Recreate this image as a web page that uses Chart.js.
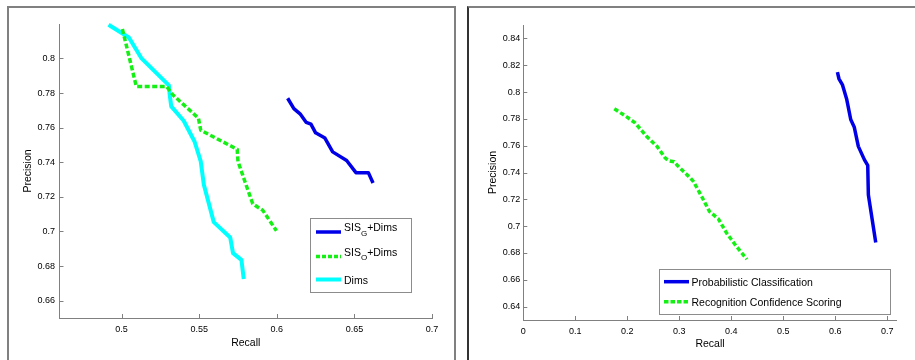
<!DOCTYPE html>
<html>
<head>
<meta charset="utf-8">
<script src="https://cdn.jsdelivr.net/npm/chart.js@4.4.1/dist/chart.umd.min.js"></script>
<style>
	html, body { margin: 0; padding: 0; background: #fff; }
	#page { position: relative; width: 915px; height: 360px; overflow: hidden; background: #fff; }
	#frameL { position: absolute; left: 7px; top: 6px; width: 445px; height: 400px; border: 2px solid #808080; border-bottom: none; }
	#frameR { position: absolute; left: 467px; top: 6px; width: 500px; height: 400px; border-top: 2px solid #808080; border-left: 2px solid #333; }
	.wrap { position: absolute; top: 0; height: 360px; }
	#wrapL { left: 0; width: 460px; }
	#wrapR { left: 460px; width: 455px; }
</style>
</head>
<body>
<div id="page">
	<div id="frameL"></div>
	<div id="frameR"></div>
	<div class="wrap" id="wrapL"><canvas id="chartL"></canvas></div>
	<div class="wrap" id="wrapR"><canvas id="chartR"></canvas></div>
</div>
<script>
	'use strict';

	// left panel: SIS variants vs Dims
	var sisGRecall = [0.607, 0.611, 0.615, 0.619, 0.622, 0.625, 0.631, 0.636, 0.645, 0.651, 0.659, 0.662];
	var sisGPrecision = [0.777, 0.771, 0.768, 0.763, 0.762, 0.757, 0.754, 0.746, 0.741, 0.734, 0.734, 0.728];

	var sisORecall = [0.5005, 0.5095, 0.529, 0.533, 0.5495, 0.551, 0.5745, 0.575, 0.5794, 0.5845, 0.591, 0.5998];
	var sisOPrecision = [0.817, 0.7838, 0.7838, 0.779, 0.7655, 0.7585, 0.7475, 0.7405, 0.729, 0.716, 0.7122, 0.7004];

	var dimsRecall = [0.4916, 0.5047, 0.5127, 0.5305, 0.531, 0.532, 0.540, 0.547, 0.551, 0.553, 0.5594, 0.570, 0.5718, 0.5772, 0.5787];
	var dimsPrecision = [0.8195, 0.8121, 0.8002, 0.7844, 0.779, 0.7723, 0.764, 0.752, 0.7405, 0.727, 0.7054, 0.6965, 0.6875, 0.6836, 0.6725];

	var leftXTicks = [0.5, 0.55, 0.6, 0.65, 0.7];
	var leftYTicks = [0.66, 0.68, 0.7, 0.72, 0.74, 0.76, 0.78, 0.8];

	// right panel: classification methods
	var probRecall = [0.604, 0.607, 0.6135, 0.622, 0.6296, 0.6365, 0.6442, 0.6558, 0.6623, 0.6635, 0.6777];
	var probPrecision = [0.8148, 0.8099, 0.8056, 0.7944, 0.7795, 0.7737, 0.7595, 0.7496, 0.7453, 0.7234, 0.6878];

	var rcsRecall = [0.175, 0.199, 0.215, 0.237, 0.257, 0.273, 0.279, 0.290, 0.298, 0.321, 0.327, 0.343, 0.358, 0.375, 0.391, 0.410, 0.430];
	var rcsPrecision = [0.7875, 0.7815, 0.777, 0.767, 0.7595, 0.7508, 0.7488, 0.748, 0.7446, 0.736, 0.7334, 0.7221, 0.7109, 0.7055, 0.6948, 0.6848, 0.6753];

	var rightXTicks = [0, 0.1, 0.2, 0.3, 0.4, 0.5, 0.6, 0.7];
	var rightYTicks = [0.64, 0.66, 0.68, 0.7, 0.72, 0.74, 0.76, 0.78, 0.8, 0.82, 0.84];

	var FAMILY = '"Liberation Sans", Arial, Helvetica, sans-serif';
	var AXIS_GREY = '#808080';
	var BLUE = '#0000e8';
	var GREEN = '#14f014';
	var CYAN = '#00ffff';

	function pts(xs, ys) {
		return xs.map(function (x, i) { return { x: x, y: ys[i] }; });
	}

	function fmt(v) {
		return String(parseFloat(Number(v).toFixed(2)));
	}

	function setTicks(list) {
		return function (scale) {
			scale.ticks = list.map(function (v) { return { value: v }; });
		};
	}

	// matlab-ish ticks pointing into the plot
	var innerTicks = {
		id: 'innerTicks',
		afterDraw: function (chart) {
			var ctx = chart.ctx;
			var xs = chart.scales.x, ys = chart.scales.y;
			ctx.save();
			ctx.strokeStyle = AXIS_GREY;
			ctx.lineWidth = 1;
			ctx.beginPath();
			xs.ticks.forEach(function (t) {
				var px = Math.round(xs.getPixelForValue(t.value)) + 0.5;
				ctx.moveTo(px, ys.bottom);
				ctx.lineTo(px, ys.bottom - 4);
			});
			ys.ticks.forEach(function (t) {
				var py = Math.round(ys.getPixelForValue(t.value)) + 0.5;
				ctx.moveTo(xs.left, py);
				ctx.lineTo(xs.left + 4, py);
			});
			ctx.stroke();
			ctx.restore();
		}
	};

	// boxed legend placed inside the axes; "_X" in a label means subscript X
	var boxLegend = {
		id: 'boxLegend',
		afterDatasetsDraw: function (chart, args, o) {
			var ctx = chart.ctx;
			ctx.save();
			ctx.fillStyle = '#fff';
			ctx.fillRect(o.x, o.y, o.w, o.h);
			ctx.strokeStyle = '#8c8c8c';
			ctx.lineWidth = 1;
			ctx.strokeRect(o.x + 0.5, o.y + 0.5, o.w, o.h);

			chart.data.datasets.forEach(function (ds, i) {
				var y = o.rows[i];
				ctx.strokeStyle = ds.borderColor;
				ctx.lineWidth = ds.borderWidth;
				ctx.lineCap = 'butt';
				ctx.setLineDash(ds.legendDash || []);
				ctx.beginPath();
				ctx.moveTo(o.lineX0, y);
				ctx.lineTo(o.lineX1, y);
				ctx.stroke();
				ctx.setLineDash([]);

				ctx.fillStyle = '#000';
				ctx.textAlign = 'left';
				ctx.textBaseline = 'alphabetic';
				var parts = ds.label.split('_');
				var hasSub = parts.length > 1;
				var base = hasSub ? y - 1 : y + o.textDrop;
				var tx = o.textX;
				parts.forEach(function (p, k) {
					if (k > 0) {
						ctx.font = o.subSize + 'px ' + FAMILY;
						ctx.fillText(p.charAt(0), tx, base + 4.5);
						tx += ctx.measureText(p.charAt(0)).width;
						p = p.slice(1);
					}
					ctx.font = o.size + 'px ' + FAMILY;
					ctx.fillText(p, tx, base);
					tx += ctx.measureText(p).width;
				});
			});
			ctx.restore();
		}
	};

	function axes(xMin, xMax, yMin, yMax, xTicks, yTicks, dims) {
		var tickFont = { family: FAMILY, size: 9 };
		var titleFont = { family: FAMILY, size: 10.5 };
		return {
			x: {
				type: 'linear',
				min: xMin,
				max: xMax,
				afterBuildTicks: setTicks(xTicks),
				afterFit: function (s) { s.height = dims.xHeight; },
				grid: { display: false, drawTicks: false },
				border: { display: true, color: AXIS_GREY, width: 1 },
				ticks: { autoSkip: false, maxRotation: 0, padding: dims.xPad, font: tickFont, color: '#000', callback: fmt },
				title: { display: true, text: 'Recall', color: '#000', font: titleFont, padding: { top: 0, bottom: dims.xTitle } }
			},
			y: {
				type: 'linear',
				min: yMin,
				max: yMax,
				afterBuildTicks: setTicks(yTicks),
				afterFit: function (s) { s.width = dims.yWidth; },
				grid: { display: false, drawTicks: false },
				border: { display: true, color: AXIS_GREY, width: 1 },
				ticks: { autoSkip: false, padding: dims.yPad, font: tickFont, color: '#000', callback: fmt },
				title: { display: true, text: 'Precision', color: '#000', font: titleFont, padding: { top: dims.yTitle, bottom: 0 } }
			}
		};
	}

	function line(label, xs, ys, color, width, dash, legendDash) {
		return {
			label: label,
			data: pts(xs, ys),
			showLine: true,
			borderColor: color,
			backgroundColor: color,
			borderWidth: width,
			borderDash: dash,
			legendDash: legendDash,
			borderCapStyle: 'butt',
			borderJoinStyle: 'round',
			pointRadius: 0,
			clip: false
		};
	}

	new Chart(document.getElementById('chartL'), {
		type: 'scatter',
		data: {
			datasets: [
				line('SIS_G+Dims', sisGRecall, sisGPrecision, BLUE, 3.5, [], []),
				line('SIS_O+Dims', sisORecall, sisOPrecision, GREEN, 3.5, [5, 2.5], [4, 2]),
				line('Dims', dimsRecall, dimsPrecision, CYAN, 4, [], [])
			]
		},
		options: {
			responsive: true,
			maintainAspectRatio: false,
			animation: false,
			events: [],
			layout: { padding: { left: 0, top: 24, right: 28, bottom: 0 } },
			plugins: {
				legend: { display: false },
				tooltip: { enabled: false },
				boxLegend: { x: 310, y: 218, w: 101, h: 74, rows: [232, 256.5, 279.5], lineX0: 316, lineX1: 341, textX: 344, textDrop: 4.5, size: 10.5, subSize: 8 }
			},
			scales: axes(0.46, 0.7, 0.65, 0.8199, leftXTicks, leftYTicks, { xHeight: 42, yWidth: 59.5, xPad: 6, yPad: 4.5, xTitle: 11, yTitle: 21.4 })
		},
		plugins: [innerTicks, boxLegend]
	});

	new Chart(document.getElementById('chartR'), {
		type: 'scatter',
		data: {
			datasets: [
				line('Probabilistic Classification', probRecall, probPrecision, BLUE, 3.5, [], []),
				line('Recognition Confidence Scoring', rcsRecall, rcsPrecision, GREEN, 3.5, [4.5, 2.5], [4.5, 2])
			]
		},
		options: {
			responsive: true,
			maintainAspectRatio: false,
			animation: false,
			events: [],
			layout: { padding: { left: 0, top: 25, right: 18.3, bottom: 0 } },
			plugins: {
				legend: { display: false },
				tooltip: { enabled: false },
				boxLegend: { x: 199, y: 269, w: 231, h: 45, rows: [281.7, 301.7], lineX0: 204, lineX1: 229, textX: 231.5, textDrop: 4.5, size: 10.5, subSize: 8 }
			},
			scales: axes(0, 0.718, 0.63, 0.85, rightXTicks, rightYTicks, { xHeight: 40, yWidth: 63.3, xPad: 6, yPad: 3, xTitle: 9.7, yTitle: 26.7 })
		},
		plugins: [innerTicks, boxLegend]
	});
</script>
</body>
</html>
